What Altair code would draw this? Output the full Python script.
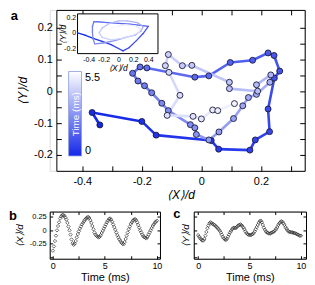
import altair as alt
import pandas as pd

FONT = "Liberation Sans"
MINUS = "replace(datum.label, '\u2212', '-')"

# ---------------- panel a: trajectory (time in ms, <X>/d, <Y>/d) ----------------
main_t = [0.0, 0.1, 0.2, 0.3, 0.4, 0.5, 0.6, 0.7, 0.8, 0.9,
          1.0, 1.1, 1.2, 1.3, 1.4, 1.5, 1.6, 1.7, 1.8, 1.9,
          2.0, 2.1, 2.2, 2.3, 2.4, 2.5, 2.6, 2.7, 2.8, 2.9,
          3.0, 3.1, 3.2, 3.3, 3.4, 3.5, 3.6, 3.7, 3.8, 3.9,
          4.0, 4.1, 4.2, 4.3, 4.4, 4.5, 4.6, 4.7, 4.8, 4.9,
          5.0, 5.1, 5.2]
main_x = [-0.341, -0.367, -0.200, -0.152, 0.033, 0.058, 0.163, 0.181, 0.229, 0.224,
          0.245, 0.263, 0.244, 0.224, 0.172, 0.097, 0.025, -0.022, -0.183, -0.206,
          -0.231, -0.213, -0.191, -0.167, -0.133, -0.111, -0.037, -0.022, -0.017, 0.025,
          0.059, 0.108, 0.139, 0.158, 0.185, 0.230, 0.233, 0.185, 0.189, 0.094,
          0.094, -0.032, -0.064, -0.111, -0.121, -0.109, -0.072, -0.115, -0.028, 0.000,
          0.038, 0.055, 0.111]
main_y = [-0.106, -0.067, -0.095, -0.138, -0.155, -0.182, -0.185, -0.153, -0.127, -0.056,
          0.041, 0.063, 0.112, 0.120, 0.097, 0.090, 0.048, 0.044, 0.073, 0.076,
          0.056, 0.032, 0.017, -0.005, -0.038, -0.061, -0.105, -0.115, -0.136, -0.153,
          -0.128, -0.086, -0.046, -0.020, -0.010, 0.028, 0.051, 0.020, 0.000, 0.008,
          0.028, 0.081, 0.080, 0.115, 0.080, 0.059, -0.013, -0.076, -0.079, -0.087,
          -0.059, -0.061, -0.039]

# inset trajectory
inset_t = [0.00, 0.13, 0.26, 0.39, 0.52, 0.65, 0.78, 0.91, 1.04, 1.17, 1.30,
           1.43, 1.56, 1.69, 1.82, 1.95, 2.08, 2.21, 2.34, 2.47, 2.60,
           2.73, 2.86, 2.99, 3.12, 3.25, 3.38, 3.51, 3.64, 3.77, 3.90,
           4.03, 4.16, 4.29, 4.42, 4.55, 4.68, 4.81, 4.94, 5.07, 5.20,
           5.33, 5.46]
inset_x = [-0.55, -0.45, -0.34, -0.22, -0.10, 0.00, 0.06, 0.14, 0.24, 0.33, 0.40,
           0.30, 0.15, 0.00, -0.15, -0.28, -0.33,
           -0.35, -0.35, -0.34, -0.32,
           -0.20, -0.05, 0.10, 0.22, 0.30, 0.33,
           0.25, 0.12, 0.00, -0.12, -0.22, -0.26,
           -0.22, -0.10, 0.05, 0.18, 0.27, 0.30,
           0.22, 0.10, -0.02, -0.12]
inset_y = [0.00, -0.03, -0.07, -0.11, -0.15, -0.20, -0.23, -0.19, -0.10, -0.01, 0.08,
           0.095, 0.11, 0.12, 0.13, 0.14, 0.14,
           0.08, 0.00, -0.08, -0.14,
           -0.13, -0.10, -0.06, -0.03, 0.02, 0.08,
           0.13, 0.15, 0.15, 0.12, 0.06, 0.00,
           -0.06, -0.09, -0.07, -0.04, 0.00, 0.05,
           0.09, 0.10, 0.08, 0.05]

# ---------------- panels b, c ----------------
time_bc = [0.0, 0.1, 0.2, 0.3, 0.4, 0.5, 0.6, 0.7, 0.8, 0.9,
           1.0, 1.1, 1.2, 1.3, 1.4, 1.5, 1.6, 1.7, 1.8, 1.9,
           2.0, 2.1, 2.2, 2.3, 2.4, 2.5, 2.6, 2.7, 2.8, 2.9,
           3.0, 3.1, 3.2, 3.3, 3.4, 3.5, 3.6, 3.7, 3.8, 3.9,
           4.0, 4.1, 4.2, 4.3, 4.4, 4.5, 4.6, 4.7, 4.8, 4.9,
           5.0, 5.1, 5.2, 5.3, 5.4, 5.5, 5.6, 5.7, 5.8, 5.9,
           6.0, 6.1, 6.2, 6.3, 6.4, 6.5, 6.6, 6.7, 6.8, 6.9,
           7.0, 7.1, 7.2, 7.3, 7.4, 7.5, 7.6, 7.7, 7.8, 7.9,
           8.0, 8.1, 8.2, 8.3, 8.4, 8.5, 8.6, 8.7, 8.8, 8.9,
           9.0, 9.1, 9.2, 9.3, 9.4, 9.5, 9.6, 9.7, 9.8, 9.9,
           10.0]
x_b = [-0.38, -0.30, -0.20, -0.10, 0.00, 0.08, 0.15, 0.22, 0.26, 0.28,
       0.29, 0.27, 0.24, 0.20, 0.14, 0.07, 0.00, -0.08, -0.17, -0.24,
       -0.27, -0.25, -0.20, -0.13, -0.07, -0.02, 0.03, 0.07, 0.11, 0.14,
       0.17, 0.20, 0.22, 0.24, 0.25, 0.23, 0.19, 0.14, 0.08, 0.02,
       -0.04, -0.08, -0.10, -0.12, -0.13, -0.12, -0.09, -0.05, -0.01, 0.03,
       0.07, 0.11, 0.15, 0.18, 0.21, 0.22, 0.20, 0.16, 0.11, 0.06,
       0.01, -0.04, -0.09, -0.13, -0.17, -0.20, -0.23, -0.25, -0.26, -0.22,
       -0.16, -0.10, -0.04, 0.02, 0.07, 0.12, 0.15, 0.18, 0.20, 0.21,
       0.19, 0.15, 0.10, 0.05, 0.00, -0.04, -0.08, -0.11, -0.13, -0.14,
       -0.15, -0.12, -0.08, -0.04, 0.00, 0.04, 0.08, 0.11, 0.14, 0.16,
       0.18]
y_c = [-0.09, -0.12, -0.15, -0.17, -0.19, -0.19, -0.16, -0.10, -0.03, 0.04,
       0.09, 0.13, 0.15, 0.14, 0.12, 0.11, 0.10, 0.08, 0.06, 0.04,
       0.02, -0.01, -0.04, -0.08, -0.12, -0.15, -0.17, -0.18, -0.16, -0.12,
       -0.08, -0.04, -0.01, 0.02, 0.04, 0.05, 0.04, 0.05, 0.07, 0.09,
       0.10, 0.11, 0.10, 0.08, 0.05, 0.02, -0.02, -0.05, -0.07, -0.08,
       -0.09, -0.09, -0.08, -0.07, -0.05, -0.02, 0.02, 0.06, 0.10, 0.14,
       0.17, 0.18, 0.15, 0.10, 0.05, 0.01, -0.02, -0.04, -0.05, -0.06,
       -0.06, -0.05, -0.04, -0.03, -0.02, 0.00, 0.03, 0.06, 0.10, 0.13,
       0.15, 0.17, 0.16, 0.13, 0.10, 0.06, 0.03, 0.00, -0.02, -0.03,
       -0.03, -0.04, -0.04, -0.05, -0.05, -0.06, -0.07, -0.08, -0.09, -0.10,
       -0.10]

# axis tick / label values and domains
main_xdom = [-0.487, 0.347]
main_ydom = [-0.25, 0.255]
main_xlab = [-0.4, -0.2, 0, 0.2]
main_ylab = [-0.2, -0.1, 0, 0.1, 0.2]
main_xtick = [-0.4, -0.3, -0.2, -0.1, 0, 0.1, 0.2, 0.3]
main_ytick = [-0.2, -0.15, -0.1, -0.05, 0, 0.05, 0.1, 0.15, 0.2]
inset_xdom = [-0.55, 0.53]
inset_ydom = [-0.265, 0.24]
inset_xlab = [-0.4, -0.2, 0, 0.2, 0.4]
inset_ylab = [-0.2, 0, 0.2]
b_xdom = [-0.3, 10.3]
c_xdom = [-0.43, 10.5]
bc_ydom = [-0.53, 0.35]
bc_xlab = [0, 5, 10]
bc_xtick = [0, 2.5, 5, 7.5, 10]
bc_ylab = [-0.25, 0, 0.25]
bc_ytick = [-0.5, -0.25, 0, 0.25]
time_range = [0, 5.5]
COL_LO, COL_HI = "#1428e8", "#ffffff"

# ---------------- geometry ----------------
W, H = 256.7, 162        # main group
XL = 6.7                 # left edge of main frame inside group
IX0, IX1, IY0, IY1 = 28, 109, 4, 44     # inset box inside main group
CBX, CBY, CBW, CBL = 19, 62, 13, 85     # colour bar: left, top, thickness, length
W2B, W2C, H2 = 111, 113, 47.5

cscale = alt.Scale(domain=time_range, range=[COL_LO, COL_HI], interpolate="rgb")


def ax(**kw):
    base = dict(grid=False, title=None, labels=False, ticks=False, domain=False,
                domainColor="black", domainWidth=1, tickColor="black", tickWidth=1,
                labelFont=FONT, titleFont=FONT, labelColor="black", titleColor="black")
    base.update(kw)
    return alt.Axis(**base)


xs_main = alt.Scale(domain=main_xdom, range=[XL, W], nice=False, zero=False)
ys_main = alt.Scale(domain=main_ydom, nice=False, zero=False)
xs_in = alt.Scale(domain=inset_xdom, range=[IX0, IX1], nice=False, zero=False)
ys_in = alt.Scale(domain=inset_ydom, range=[IY1, IY0], nice=False, zero=False)
xs_cb = alt.Scale(domain=time_range, range=[CBX, CBX + CBW], nice=False, zero=False)
ys_cb = alt.Scale(domain=time_range, range=[CBY + CBL, CBY], nice=False, zero=False)

pts = pd.DataFrame({"t": main_t, "x": main_x, "y": main_y})
seg = pd.DataFrame({"t": main_t[:-1], "x": main_x[:-1], "y": main_y[:-1],
                    "x2": main_x[1:], "y2": main_y[1:]})
iseg = pd.DataFrame({"t": inset_t[:-1], "x": inset_x[:-1], "y": inset_y[:-1],
                     "x2": inset_x[1:], "y2": inset_y[1:]})
ibox = pd.DataFrame({"x": [inset_xdom[0]], "x2": [inset_xdom[1]],
                     "y": [inset_ydom[0]], "y2": [inset_ydom[1]]})
cb = pd.DataFrame({"t0": [time_range[0]], "t1": [time_range[1]]})

main_lines = alt.Chart(seg).mark_rule(strokeWidth=2.6, strokeCap="round").encode(
    x=alt.X("x:Q", scale=xs_main, axis=ax(
        orient="bottom", labels=True, domain=True, values=main_xlab, format=".1~f",
        labelExpr=MINUS, labelFontSize=11, labelPadding=5, title="⟨X⟩/d",
        titleFontSize=12, titleFontStyle="italic", titleFontWeight="normal",
        titlePadding=3)),
    y=alt.Y("y:Q", scale=ys_main, axis=ax(
        orient="left", offset=-XL, labels=True, domain=True, values=main_ylab,
        format=".1~f", labelExpr=MINUS, labelFontSize=11, labelPadding=4,
        title="⟨Y⟩/d", titleFontSize=12, titleFontStyle="italic",
        titleFontWeight="normal", titlePadding=4)),
    x2="x2:Q", y2="y2:Q",
    color=alt.Color("t:Q", scale=cscale, legend=None),
)

main_points = alt.Chart(pts).mark_circle(size=36, opacity=1, stroke="#1b1b3a",
                                         strokeWidth=0.9).encode(
    x=alt.X("x:Q", scale=xs_main, axis=None),
    y=alt.Y("y:Q", scale=ys_main, axis=None),
    color=alt.Color("t:Q", scale=cscale, legend=None),
)

ticks_a = alt.Chart(pts).mark_point(opacity=0).encode(
    x=alt.X("x:Q", scale=xs_main, axis=ax(orient="top", offset=-H, ticks=True,
                                          tickSize=5, values=main_xtick)),
    y=alt.Y("y:Q", scale=ys_main, axis=ax(orient="right", offset=-(W - XL), ticks=True,
                                          tickSize=5, values=main_ytick)),
)
ticks_b = alt.Chart(pts).mark_point(opacity=0).encode(
    x=alt.X("x:Q", scale=xs_main, axis=ax(orient="bottom", offset=-H, ticks=True,
                                          domain=True, tickSize=5, values=main_xtick)),
    y=alt.Y("y:Q", scale=ys_main, axis=ax(orient="left", offset=-W, ticks=True,
                                          domain=True, tickSize=5, values=main_ytick)),
)

# colour bar (time legend): gradient bar on its own time scales, labelled by axes
cbar = alt.Chart(cb).mark_rect(
    color=alt.Gradient(gradient="linear",
                       stops=[alt.GradientStop(offset=0, color=COL_LO),
                              alt.GradientStop(offset=1, color=COL_HI)],
                       x1=0, x2=0, y1=1, y2=0),
    stroke="#8c9bd8", strokeWidth=0.8).encode(
    x=alt.X("t0:Q", scale=xs_cb, axis=None), x2="t1:Q",
    y=alt.Y("t0:Q", scale=ys_cb, axis=ax(
        orient="right", offset=CBX + CBW - W, labels=True, values=[time_range[1]],
        format=".1~f", labelFontSize=11, labelPadding=3, labelBaseline="top")),
    y2="t1:Q",
)
cbar_low = alt.Chart(cb).mark_point(opacity=0).encode(
    x=alt.X("t0:Q", scale=xs_cb, axis=None),
    y=alt.Y("t0:Q", scale=ys_cb, axis=ax(
        orient="right", offset=CBX + CBW - W, labels=True, values=[time_range[0]],
        format=".1~f", labelFontSize=11, labelPadding=3, labelBaseline="bottom")),
)
cbar_title = alt.Chart(cb).mark_point(opacity=0).encode(
    x=alt.X("t0:Q", scale=xs_cb, axis=None),
    y=alt.Y("t0:Q", scale=ys_cb, axis=ax(
        orient="left", title="Time (ms)", titleColor="white", titleFontSize=10,
        titleFontWeight="normal", titleAngle=270, titleAlign="center",
        titleBaseline="middle", titleX=CBX + CBW / 2 + 0.5, titleY=CBY + CBL / 2,
        zindex=2)),
)

inset_frame = alt.Chart(ibox).mark_rect(fill="white", stroke="black", strokeWidth=1).encode(
    x=alt.X("x:Q", scale=xs_in, axis=ax(
        orient="bottom", offset=-(H - IY1), labels=True, values=inset_xlab,
        format=".1~f", labelExpr=MINUS, labelFontSize=7, labelPadding=1.5,
        title="⟨X⟩/d", titleFontSize=8.5, titleFontStyle="italic",
        titleFontWeight="normal", titleX=(IX0 + IX1) / 2, titleY=10,
        titleAlign="center", titleBaseline="top")),
    y=alt.Y("y:Q", scale=ys_in, axis=ax(
        orient="left", offset=-IX0, labels=True, values=inset_ylab, format=".1~f",
        labelExpr=MINUS, labelFontSize=7, labelPadding=2, title="⟨Y⟩/d",
        titleFontSize=8.5, titleFontStyle="italic", titleFontWeight="normal",
        titleX=-10, titleY=(IY0 + IY1) / 2, titleAlign="center", titleAngle=270,
        titleBaseline="bottom")),
    x2="x2:Q", y2="y2:Q",
)
inset_path = alt.Chart(iseg).mark_rule(strokeWidth=1.3, strokeCap="round").encode(
    x=alt.X("x:Q", scale=xs_in, axis=None),
    y=alt.Y("y:Q", scale=ys_in, axis=None),
    x2="x2:Q", y2="y2:Q",
    color=alt.Color("t:Q", scale=cscale, legend=None),
)


def letter(txt, dx, dy):
    return alt.Chart(pd.DataFrame({"lab": [txt]})).mark_text(
        font=FONT, fontSize=13, fontWeight="bold", align="left", baseline="top",
        color="black").encode(x=alt.value(dx), y=alt.value(dy), text="lab:N")


top = alt.layer(inset_frame, inset_path, main_lines, main_points, cbar, cbar_low,
                cbar_title, ticks_a, ticks_b, letter("a", -39.3, 0)).resolve_scale(
    x="independent", y="independent").properties(width=W, height=H)


def small_panel(vals, xdom, width, ytitle, show_ylabels, let, let_dx, let_dy):
    df = pd.DataFrame({"t": time_bc, "v": vals})
    xs = alt.Scale(domain=xdom, nice=False, zero=False)
    ys = alt.Scale(domain=bc_ydom, nice=False, zero=False)
    data = alt.Chart(df).mark_point(shape="diamond", filled=False, size=12,
                                    stroke="#2e2e2e", strokeWidth=1).encode(
        x=alt.X("t:Q", scale=xs, axis=ax(
            orient="bottom", labels=True, domain=True, values=bc_xlab, format="d",
            labelFontSize=9, labelPadding=3, title="Time (ms)", titleFontSize=11,
            titleFontWeight="normal", titlePadding=1)),
        y=alt.Y("v:Q", scale=ys, axis=ax(
            orient="left", labels=show_ylabels, domain=True, values=bc_ylab,
            format=".2~f", labelExpr=MINUS, labelFontSize=7.5, labelPadding=3.5,
            title=ytitle, titleFontSize=10, titleFontStyle="italic",
            titleFontWeight="normal", titlePadding=5 if show_ylabels else 3)),
    )
    ta = alt.Chart(df).mark_point(opacity=0).encode(
        x=alt.X("t:Q", scale=xs, axis=ax(orient="top", offset=-H2, ticks=True,
                                         tickSize=3, values=bc_xtick)),
        y=alt.Y("v:Q", scale=ys, axis=ax(orient="right", offset=-width, ticks=True,
                                         tickSize=3, values=bc_ytick)),
    )
    tb = alt.Chart(df).mark_point(opacity=0).encode(
        x=alt.X("t:Q", scale=xs, axis=ax(orient="bottom", offset=-H2, ticks=True,
                                         domain=True, tickSize=3, values=bc_xtick)),
        y=alt.Y("v:Q", scale=ys, axis=ax(orient="left", offset=-width, ticks=True,
                                         domain=True, tickSize=3, values=bc_ytick)),
    )
    return alt.layer(data, ta, tb, letter(let, let_dx, let_dy)).resolve_scale(
        x="independent", y="independent").properties(width=width, height=H2)


b = small_panel(x_b, b_xdom, W2B, "⟨X⟩/d", True, "b", -41, -2)
c = small_panel(y_c, c_xdom, W2C, "⟨Y⟩/d", False, "c", -20.6, -4)

bottom = alt.hconcat(b, c, spacing=9)

chart = alt.vconcat(top, bottom, spacing=5).properties(
    padding=0
).configure_view(stroke=None).configure(font=FONT)

chart.save("out.html", embed_options={"renderer": "svg", "actions": False})
